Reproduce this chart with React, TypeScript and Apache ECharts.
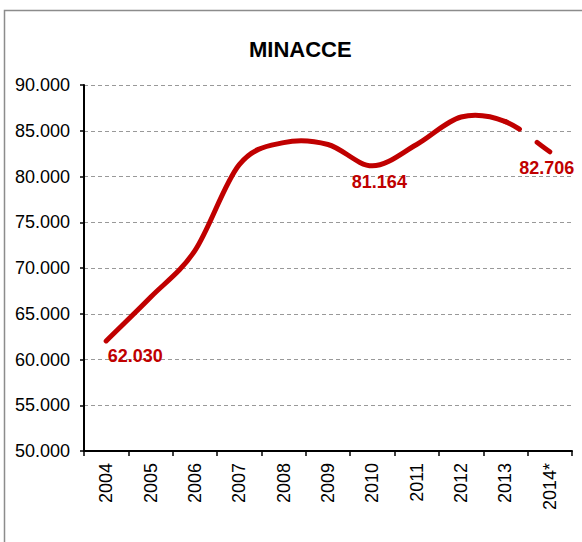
import React, { useEffect, useRef } from "react";
import * as echarts from "echarts";

const categories = ["2004", "2005", "2006", "2007", "2008", "2009", "2010", "2011", "2012", "2013", "2014*"];
const values = [62030, 66800, 71900, 81300, 83700, 83500, 81164, 83500, 86500, 86000, 82706];
const yTicks = { min: 50000, max: 90000, interval: 5000 };
const labelledIndices = [0, 6, 10];
const labelOffsets: Record<number, [number, number]> = { 0: [29, 2], 6: [7, 3], 10: [-3, 3] };
const firstEstimateIndex = 9; // segment from this index onward is dashed

const RED = "#C00000";
const FONT = "'Liberation Sans', Arial, sans-serif";

function fmt(v: number): string {
  return Math.round(v).toString().replace(/\B(?=(\d{3})+(?!\d))/g, ".");
}

function point(i: number) {
  const show = labelledIndices.includes(i);
  return {
    value: values[i],
    label: show
      ? {
          show: true,
          position: "bottom",
          distance: 4,
          offset: labelOffsets[i],
          formatter: () => fmt(values[i]),
          color: RED,
          fontFamily: FONT,
          fontWeight: "bold",
          fontSize: 18,
        }
      : { show: false },
  };
}

// Catmull-Rom style smoothing (like spreadsheet smoothed lines), built from axis coords
function buildPath(pts: number[][], from: number, to: number): string {
  const n = pts.length;
  const tangent = (i: number) => {
    if (i === 0) return [pts[1][0] - pts[0][0], pts[1][1] - pts[0][1]];
    if (i === n - 1) return [pts[n - 1][0] - pts[n - 2][0], pts[n - 1][1] - pts[n - 2][1]];
    return [(pts[i + 1][0] - pts[i - 1][0]) / 2, (pts[i + 1][1] - pts[i - 1][1]) / 2];
  };
  let d = `M${pts[from][0]},${pts[from][1]}`;
  for (let i = from; i < to; i++) {
    const m0 = tangent(i);
    const m1 = tangent(i + 1);
    const c1 = [pts[i][0] + m0[0] / 3, pts[i][1] + m0[1] / 3];
    const c2 = [pts[i + 1][0] - m1[0] / 3, pts[i + 1][1] - m1[1] / 3];
    d += ` C${c1[0]},${c1[1]} ${c2[0]},${c2[1]} ${pts[i + 1][0]},${pts[i + 1][1]}`;
  }
  return d;
}

export default function App() {
  const ref = useRef<HTMLDivElement>(null);
  useEffect(() => {
    if (!ref.current) return;
    const chart = echarts.init(ref.current, undefined, { renderer: "svg" });
    chart.setOption({
      animation: false,
      backgroundColor: "#ffffff",
      title: {
        text: "MINACCE",
        left: 244,
        top: 33,
        textStyle: { fontFamily: FONT, fontWeight: "bold", fontSize: 22, color: "#000" },
      },
      graphic: [
        {
          type: "rect",
          shape: { x: 4.5, y: 10.5, width: 700, height: 700 },
          style: { fill: "none", stroke: "#8c8c8c", lineWidth: 1.5 },
          silent: true,
        },
      ],
      grid: { left: 84, right: 10, top: 85, bottom: 91 },
      xAxis: {
        type: "category",
        data: categories,
        boundaryGap: true,
        axisLine: { lineStyle: { color: "#000", width: 2 } },
        axisTick: { show: true, length: 5, inside: false, lineStyle: { color: "#000", width: 1.5 } },
        axisLabel: {
          rotate: 90,
          margin: 12,
          color: "#000",
          fontFamily: FONT,
          fontSize: 18,
          interval: 0,
        },
        splitLine: { show: false },
      },
      yAxis: {
        type: "value",
        min: yTicks.min,
        max: yTicks.max,
        interval: yTicks.interval,
        axisLine: { show: true, lineStyle: { color: "#000", width: 2 } },
        axisTick: { show: true, length: 4, lineStyle: { color: "#000", width: 1.5 } },
        axisLabel: {
          margin: 14,
          color: "#000",
          fontFamily: FONT,
          fontSize: 18,
          formatter: (v: number) => fmt(v),
        },
        splitLine: { show: true, lineStyle: { color: "#999", width: 1.2, type: [4, 3] } },
      },
      series: [
        {
          type: "custom",
          data: [[0, values[0]]],
          clip: false,
          z: 3,
          renderItem: (params: any, api: any) => {
            if (params.dataIndex !== 0) return null;
            const pts = values.map((v, i) => api.coord([i, v]));
            return {
              type: "group",
              children: [
                {
                  type: "path",
                  shape: { pathData: buildPath(pts, 0, firstEstimateIndex) },
                  style: { fill: "none", stroke: RED, lineWidth: 5, lineCap: "round", lineJoin: "round" },
                },
                {
                  type: "path",
                  shape: { pathData: buildPath(pts, firstEstimateIndex, pts.length - 1) },
                  style: { fill: "none", stroke: RED, lineWidth: 5, lineCap: "round", lineDash: [16, 22] },
                },
              ],
            };
          },
        },
        {
          type: "line",
          data: categories.map((_, i) => point(i)),
          symbol: "circle",
          symbolSize: 1,
          itemStyle: { color: "rgba(0,0,0,0)" },
          lineStyle: { width: 0, opacity: 0 },
          z: 4,
        },
      ],
    });
    return () => chart.dispose();
  }, []);
  return <div ref={ref} style={{ position: "absolute", left: 0, top: 0, width: 582, height: 542 }} />;
}
